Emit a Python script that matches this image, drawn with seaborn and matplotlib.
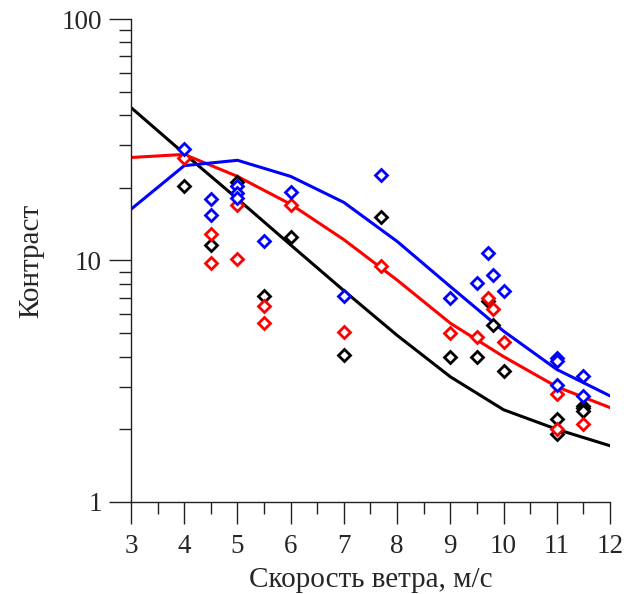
import matplotlib.pyplot as plt
import matplotlib.ticker as ticker
import numpy as np
import pandas as pd
import seaborn as sns

# model curves
line_x = [3, 4, 5, 6, 7, 8, 9, 10, 11, 12]
black_line = [43, 27.7, 18.0, 11.6, 7.5, 4.9, 3.3, 2.41, 2.0, 1.71]
red_line = [26.7, 27.5, 22.3, 17.1, 12.2, 8.3, 5.5, 4.0, 3.0, 2.46]
blue_line = [16.3, 24.7, 26.0, 22.3, 17.4, 12.0, 7.8, 5.1, 3.54, 2.75]

# measured points
black_x = [4, 4.5, 5, 5.5, 6, 7, 7.7, 9, 9.5, 9.7, 9.8, 10, 11, 11, 11.5, 11.5, 11.5]
black_y = [20.4, 11.6, 21.2, 7.1, 12.5, 4.05, 15.2, 4.0, 4.0, 6.8, 5.4, 3.5, 2.2, 1.92, 2.5, 2.45, 2.38]
red_x = [4, 4.5, 4.5, 5, 5, 5.5, 5.5, 6, 7, 7.7, 9, 9.5, 9.7, 9.8, 10, 11, 11, 11.5]
red_y = [26.6, 12.9, 9.8, 17.0, 10.1, 6.5, 5.5, 17.0, 5.05, 9.5, 5.0, 4.8, 7.0, 6.3, 4.6, 2.81, 2.0, 2.11]
blue_x = [4, 4.5, 4.5, 5, 5, 5, 5.5, 6, 7, 7.7, 9, 9.5, 9.7, 9.8, 10, 11, 11, 11, 11.5, 11.5]
blue_y = [29, 17.9, 15.4, 20.3, 19.1, 18.2, 12.1, 19.2, 7.1, 22.7, 7.0, 8.1, 10.7, 8.7, 7.5, 3.95, 3.84, 3.04, 3.34, 2.75]

sns.set_style("ticks")
plt.rcParams['font.family'] = ['Liberation Serif', 'DejaVu Serif']

fig = plt.figure(figsize=(6.28, 5.94), dpi=100)
ax = fig.add_axes([0.2086, 0.1549, 0.7627, 0.8131])

lines = pd.DataFrame({
    "x": line_x * 3,
    "y": black_line + red_line + blue_line,
    "group": ["black"] * len(line_x) + ["red"] * len(line_x) + ["blue"] * len(line_x),
})
points = pd.DataFrame({
    "x": black_x + red_x + blue_x,
    "y": black_y + red_y + blue_y,
    "group": ["black"] * len(black_x) + ["red"] * len(red_x) + ["blue"] * len(blue_x),
})
palette = {"black": "#000000", "red": "#ff0000", "blue": "#0000ff"}

sns.lineplot(data=lines, x="x", y="y", hue="group", palette=palette, linewidth=2.2,
             legend=False, ax=ax, zorder=2)
for grp in ["black", "red", "blue"]:
    sub = points[points["group"] == grp]
    ax.plot(sub["x"], sub["y"], linestyle="none", marker="D", markersize=6,
            markerfacecolor="white", markeredgecolor=palette[grp], markeredgewidth=2.0, zorder=3)

ax.set_yscale("log")
ax.set_xlim(3, 12)
ax.set_ylim(1, 100)
ax.set_xticks(range(3, 13))
ax.xaxis.set_minor_locator(ticker.MultipleLocator(0.5))
ax.set_yticks([1, 10, 100])
ax.set_yticklabels(["1", "10", "100"])
ax.yaxis.set_minor_locator(ticker.LogLocator(base=10, subs=np.arange(2, 10)))
ax.yaxis.set_minor_formatter(ticker.NullFormatter())

sns.despine(ax=ax)
for sp in ["left", "bottom"]:
    ax.spines[sp].set_linewidth(1.0)
    ax.spines[sp].set_color("#222222")
ax.tick_params(axis="both", which="major", length=16, width=1.0, color="#222222",
               labelsize=19.5, pad=5, direction="out")
ax.tick_params(axis="x", which="major", pad=7)
ax.tick_params(axis="both", which="minor", length=8.5, width=1.0, color="#222222", direction="out")

ax.set_xlabel("Скорость ветра, м/с", fontsize=21, labelpad=6)
ax.set_ylabel("Контраст", fontsize=21, labelpad=12)

fig.savefig("out.png", dpi=100)
